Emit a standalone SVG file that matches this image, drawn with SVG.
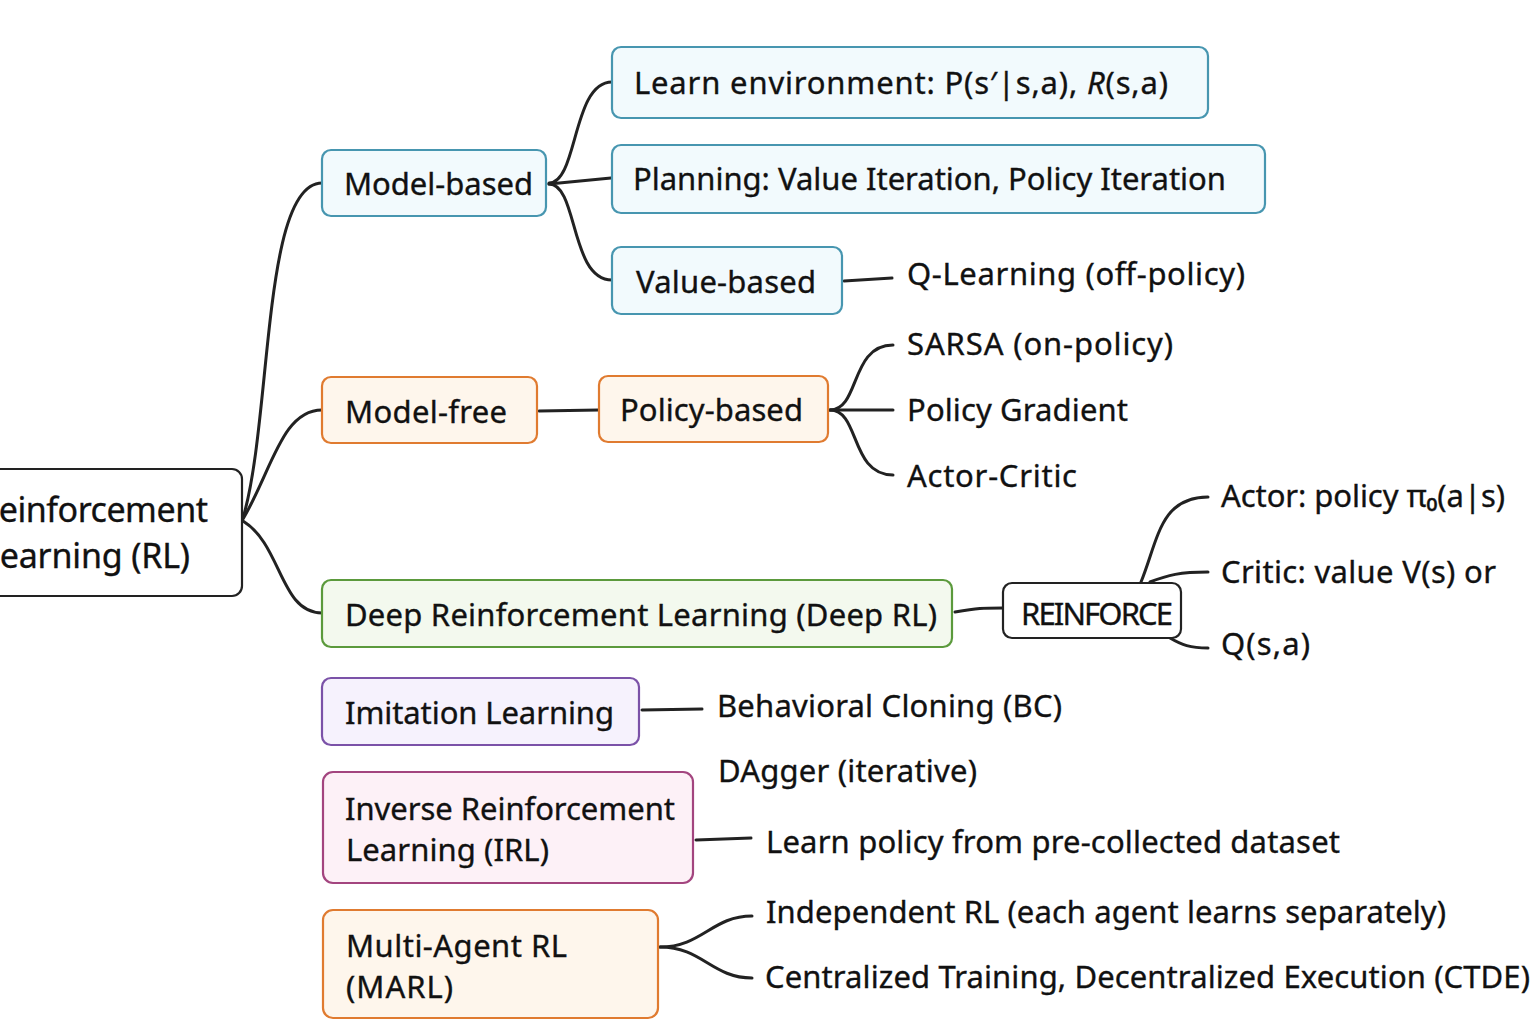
<svg xmlns="http://www.w3.org/2000/svg" width="1536" height="1024" viewBox="0 0 1536 1024">
<style>
text{font-family:"Noto Sans","Open Sans","DejaVu Sans",sans-serif;font-size:31px;fill:#111;stroke:#111;stroke-width:0.35;}
.root{font-size:34px;}
.box{stroke-width:2.2;}
.blue{fill:#f2fafd;stroke:#4796b0;}
.orange{fill:#fef6ec;stroke:#e07b30;}
.green{fill:#f3f9ee;stroke:#5b9a3c;}
.purple{fill:#f6f2fd;stroke:#7b52a8;}
.pink{fill:#fdf1f7;stroke:#a3457f;}
.plain{fill:#fff;stroke:#222;}
.conn path{fill:none;stroke:#222;stroke-width:3;stroke-linecap:round;}
</style>
<rect width="1536" height="1024" fill="#fff"/>
<g class="conn" id="connectors">
<path d="M243,518 C272,420 262,183 322,183"/>
<path d="M243,519 C272,470 282,410 322,410"/>
<path d="M243,521 C282,545 280,613 322,613"/>
<path d="M549,183 C578,183 572,82 612,82"/>
<path d="M549,184 L611,178"/>
<path d="M549,184 C578,184 570,280 612,280"/>
<path d="M844,281 L892,278"/>
<path d="M539,411 L599,410"/>
<path d="M830,410 C860,410 850,345 893,345"/>
<path d="M830,410 L893,410"/>
<path d="M830,410 C860,410 850,475 893,475"/>
<path d="M955,612 C978,608 982,608 1003,608"/>
<path d="M1141,582 C1158,540 1160,497 1208,497"/>
<path d="M1150,582 C1168,575 1180,572 1208,572"/>
<path d="M1170,638 C1182,645 1190,648 1208,648"/>
<path d="M642,710 L702,709"/>
<path d="M696,840 L751,838"/>
<path d="M660,947 C702,947 712,916 752,916"/>
<path d="M660,947 C702,947 712,978 752,978"/>
</g>
<g id="root">
<rect class="box plain" x="-20" y="469" width="262" height="127" rx="10"/>
<text class="root" x="-22" y="522" textLength="230">Reinforcement</text>
<text class="root" x="-18" y="568" textLength="208">Learning (RL)</text>
</g>
<g id="model-based">
<rect class="box blue" x="322" y="150" width="224" height="66" rx="9"/>
<text x="344" y="195" textLength="189">Model-based</text>
</g>
<g id="learn-env">
<rect class="box blue" x="612" y="47" width="596" height="71" rx="9"/>
<text x="634" y="94" textLength="534">Learn environment: P(s′|s,a), <tspan font-style="italic">R</tspan>(s,a)</text>
</g>
<g id="planning">
<rect class="box blue" x="612" y="145" width="653" height="68" rx="9"/>
<text x="633" y="190" textLength="593">Planning: Value Iteration, Policy Iteration</text>
</g>
<g id="value-based">
<rect class="box blue" x="612" y="247" width="230" height="67" rx="9"/>
<text x="636" y="293" textLength="180">Value-based</text>
</g>
<g id="q-learning">
<text x="907" y="285" textLength="338">Q-Learning (off-policy)</text>
</g>
<g id="model-free">
<rect class="box orange" x="322" y="377" width="215" height="66" rx="9"/>
<text x="345" y="423" textLength="162">Model-free</text>
</g>
<g id="policy-based">
<rect class="box orange" x="599" y="376" width="229" height="66" rx="9"/>
<text x="620" y="421" textLength="183">Policy-based</text>
</g>
<g id="sarsa"><text x="907" y="355" textLength="266">SARSA (on-policy)</text></g>
<g id="policy-gradient"><text x="907" y="421" textLength="221">Policy Gradient</text></g>
<g id="actor-critic"><text x="907" y="487" textLength="170">Actor-Critic</text></g>
<g id="deep-rl">
<rect class="box green" x="322" y="580" width="630" height="67" rx="9"/>
<text x="345" y="626" textLength="592">Deep Reinforcement Learning (Deep RL)</text>
</g>
<g id="reinforce">
<rect class="box plain" x="1003" y="583" width="178" height="55" rx="9"/>
<text x="1021" y="625" textLength="152">REINFORCE</text>
</g>
<g id="actor"><text x="1221" y="507" textLength="284">Actor: policy π₀(a|s)</text></g>
<g id="critic"><text x="1221" y="583" textLength="275">Critic: value V(s) or</text></g>
<g id="qsa"><text x="1221" y="655" textLength="89">Q(s,a)</text></g>
<g id="imitation">
<rect class="box purple" x="322" y="678" width="317" height="67" rx="9"/>
<text x="345" y="724" textLength="269">Imitation Learning</text>
</g>
<g id="bc"><text x="717" y="717" textLength="345">Behavioral Cloning (BC)</text></g>
<g id="dagger"><text x="718" y="782" textLength="259">DAgger (iterative)</text></g>
<g id="irl">
<rect class="box pink" x="323" y="772" width="370" height="111" rx="10"/>
<text x="345" y="820" textLength="330">Inverse Reinforcement</text>
<text x="346" y="861" textLength="203">Learning (IRL)</text>
</g>
<g id="learn-policy"><text x="766" y="853" textLength="574">Learn policy from pre-collected dataset</text></g>
<g id="marl">
<rect class="box orange" x="323" y="910" width="335" height="108" rx="10"/>
<text x="346" y="957" textLength="221">Multi-Agent RL</text>
<text x="346" y="998" textLength="107">(MARL)</text>
</g>
<g id="independent"><text x="766" y="923" textLength="680">Independent RL (each agent learns separately)</text></g>
<g id="ctde"><text x="765" y="988" textLength="765">Centralized Training, Decentralized Execution (CTDE)</text></g>
</svg>
